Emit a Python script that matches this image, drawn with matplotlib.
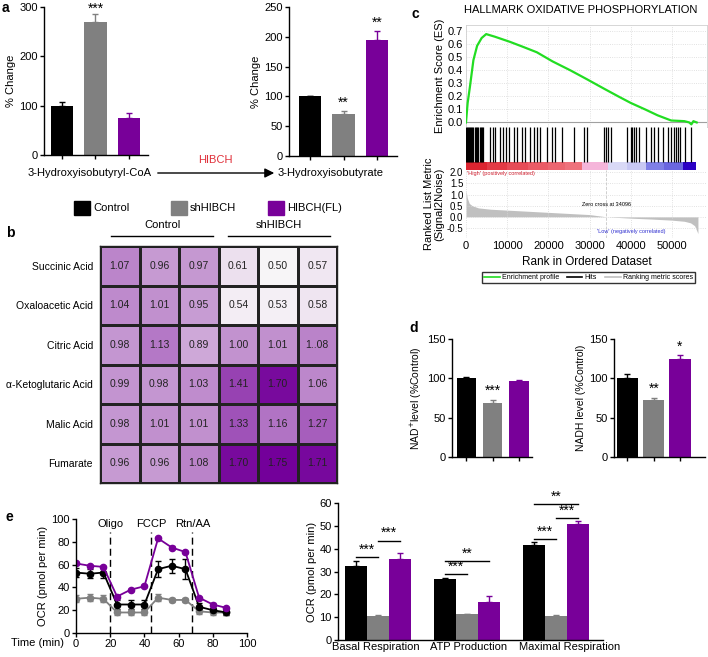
import numpy as np
import matplotlib
matplotlib.use('Agg')
import matplotlib.pyplot as plt
from matplotlib.colors import LinearSegmentedColormap
from matplotlib.patches import Rectangle
from matplotlib.lines import Line2D

plt.rcParams['font.family'] = ['Liberation Sans', 'DejaVu Sans']
plt.rcParams['axes.linewidth'] = 1.0
plt.rcParams['xtick.major.width'] = 1.0
plt.rcParams['ytick.major.width'] = 1.0
plt.rcParams['xtick.major.size'] = 3
plt.rcParams['ytick.major.size'] = 3

# ---------------- data ----------------
groups = ['Control', 'shHIBCH', 'HIBCH(FL)']
colors = ['#000000', '#808080', '#780099']

# panel a
coa_vals = [100, 270, 76]
coa_errs = [8, 15, 9]
hib_vals = [100, 70, 195]
hib_errs = [1, 5, 14]

# panel b
metabolites = ['Succinic Acid', 'Oxaloacetic Acid', 'Citric Acid',
               'α-Ketoglutaric Acid', 'Malic Acid', 'Fumarate']
heat_vals = np.array([
    [1.07, 0.96, 0.97, 0.61, 0.50, 0.57],
    [1.04, 1.01, 0.95, 0.54, 0.53, 0.58],
    [0.98, 1.13, 0.89, 1.00, 1.01, 1.08],
    [0.99, 0.98, 1.03, 1.41, 1.70, 1.06],
    [0.98, 1.01, 1.01, 1.33, 1.16, 1.27],
    [0.96, 0.96, 1.08, 1.70, 1.75, 1.71],
])
label_override = {(2, 5): '1..08'}

# panel c (GSEA)
es_rank = [0, 400, 976, 1800, 2700, 3800, 4900, 7000, 10700, 14000, 17200, 21000,
           25400, 29500, 33500, 37000, 40000, 43500, 46500, 49800, 53000, 54200,
           54700, 55200, 56000]
es_val = [0.0, 0.15, 0.28, 0.48, 0.59, 0.65, 0.68, 0.66, 0.62, 0.58, 0.54, 0.47,
          0.40, 0.33, 0.26, 0.20, 0.15, 0.10, 0.055, 0.015, 0.01, 0.0,
          -0.015, 0.01, 0.0]
hits = [100, 300, 500, 700, 900, 1200, 1500, 1800, 2100, 2400, 2700, 3000, 3300,
        3600, 3900, 4200, 5850, 6500, 7100, 8300, 9100, 9750, 10550, 11550, 12350,
        13600, 14400, 15450, 16450, 17250, 18050, 19700, 20900, 21700, 23350,
        26200, 28600, 29450, 33500, 33900, 34500, 35150, 39200, 40000, 40400,
        40850, 41250, 42050, 43700, 44900, 45700, 46500, 47750, 48950, 49800,
        50600, 51000, 51400, 52050, 53050, 54650]
rm_rank = [0, 300, 800, 1500, 3000, 6000, 10000, 20000, 30000, 34096, 40000,
           45000, 50000, 53000, 54500, 55500, 56300]
rm_val = [1.2, 0.85, 0.6, 0.5, 0.4, 0.34, 0.3, 0.2, 0.1, 0.0, -0.06, -0.1,
          -0.15, -0.2, -0.27, -0.4, -0.75]
band_edges = [0, 5000, 10000, 15000, 20000, 24000, 28200, 34500, 39000, 43700,
              48000, 52700, 55900]
band_colors = ['#dc2430', '#e23a45', '#e64c57', '#ea5b66', '#ec6670', '#ee727c',
               '#f5b5da', '#d9d9f6', '#c8c8f3', '#7f7fe6', '#6a66df', '#2a00c4']

# panel d
nad_vals = [100, 69, 96]
nad_errs = [1.5, 3, 2]
nadh_vals = [100, 73, 125]
nadh_errs = [5, 2, 5]

# panel e (time course)
time_min = [0, 8, 16, 24, 32, 40, 48, 56, 64, 72, 80, 88]
ocr_ctrl = [53, 52, 53, 25, 25, 25, 56, 59, 56, 23, 20, 18]
ocr_ctrl_err = [4, 4, 5, 4, 4, 4, 7, 6, 9, 3, 2, 2]
ocr_sh = [30, 31, 30, 18, 18, 18, 31, 29, 29, 19, 18, 18]
ocr_sh_err = [3, 3, 3, 2, 2, 2, 3, 2, 2, 2, 2, 2]
ocr_fl = [61, 59, 58, 32, 38, 41, 83, 75, 71, 31, 25, 22]
ocr_fl_err = [1, 1, 1, 1, 1, 1, 1, 1, 1, 1, 1, 1]
injections = [20, 44, 68]
injection_names = ['Oligo', 'FCCP', 'Rtn/AA']

# panel e (summary)
resp_cats = ['Basal Respiration', 'ATP Production', 'Maximal Respiration']
resp_ctrl = [32.5, 26.5, 41.5]
resp_ctrl_err = [2, 0.6, 1.5]
resp_sh = [10.5, 11.2, 10.5]
resp_sh_err = [0.3, 0.3, 0.3]
resp_fl = [35.5, 16.8, 51.0]
resp_fl_err = [2.5, 2.3, 1.0]

# ---------------- figure ----------------
W, H = 708, 657
fig = plt.figure(figsize=(W / 100, H / 100), dpi=100)
STAR = 10


def px_axes(l, t, r, b):
    return fig.add_axes([l / W, 1 - b / H, (r - l) / W, (b - t) / H])


def prism(ax):
    ax.spines['top'].set_visible(False)
    ax.spines['right'].set_visible(False)
    ax.tick_params(labelsize=8, pad=1.5)


def bar_panel(ax, vals, errs, width, xlim, ylim, yticks, ylabel):
    x = np.arange(3)
    ax.bar(x, vals, width, color=colors, zorder=2)
    for xi, v, e, c in zip(x, vals, errs, colors):
        ax.errorbar(xi, v, yerr=[[0], [e]], fmt='none', ecolor=c,
                    elinewidth=1.0, capsize=2.5, capthick=1.0, zorder=3)
    ax.set_xlim(*xlim)
    ax.set_ylim(*ylim)
    ax.set_yticks(yticks)
    ax.set_xticks(x)
    ax.set_xticklabels([])
    ax.set_ylabel(ylabel, fontsize=8, labelpad=2)
    prism(ax)


# panel a
ax_a1 = px_axes(44, 7, 148, 155)
bar_panel(ax_a1, coa_vals, coa_errs, 0.66, (-0.54, 2.57), (0, 300),
          [0, 100, 200, 300], '% Change')
ax_a1.text(1, 283, '***', ha='center', va='bottom', fontsize=STAR)

ax_a2 = px_axes(289, 7, 397, 156)
bar_panel(ax_a2, hib_vals, hib_errs, 0.68, (-0.63, 2.6), (0, 250),
          [0, 50, 100, 150, 200, 250], '% Change')
ax_a2.text(1, 78, '**', ha='center', va='bottom', fontsize=STAR)
ax_a2.text(2, 211, '**', ha='center', va='bottom', fontsize=STAR)

# panel b heatmap
cmap = LinearSegmentedColormap.from_list(
    'pur', [(0, '#f7f5f7'), (0.4, '#c292cf'), (1, '#73009a')])
ax_b = px_axes(100, 246, 337, 483)
ax_b.pcolormesh(np.arange(7), np.arange(7), heat_vals, cmap=cmap,
                vmin=0.5, vmax=1.75, edgecolors='#222222', linewidth=0.9)
ax_b.set_xlim(0, 6)
ax_b.set_ylim(6, 0)
for i in range(heat_vals.shape[0]):
    for j in range(heat_vals.shape[1]):
        lab = label_override.get((i, j), f'{heat_vals[i, j]:.2f}')
        ax_b.text(j + 0.5, i + 0.5, lab, ha='center', va='center', fontsize=7.5,
                  color='#222222')
ax_b.set_xticks([])
ax_b.set_yticks(np.arange(6) + 0.5)
ax_b.set_yticklabels(metabolites, fontsize=7.5)
ax_b.tick_params(axis='y', length=0, pad=5)
for s in ax_b.spines.values():
    s.set_linewidth(1.0)
    s.set_color('#222222')
ax_b.plot([0.28, 2.86], [-0.25, -0.25], color='black', lw=1.0, clip_on=False)
ax_b.plot([3.24, 5.82], [-0.25, -0.25], color='black', lw=1.0, clip_on=False)
ax_b.text(1.57, -0.4, 'Control', ha='center', va='bottom', fontsize=8)
ax_b.text(4.53, -0.4, 'shHIBCH', ha='center', va='bottom', fontsize=8)

# panel c GSEA
gx = (0, 58500)
grid_kw = dict(color='#d8d8d8', lw=0.6, ls=':')
ax_es = px_axes(466, 25, 707, 127)
ax_es.plot(es_rank, es_val, color='#22dd22', lw=1.6, zorder=3)
ax_es.axhline(0, color='#a0a0a0', lw=0.8)
ax_es.set_xlim(*gx)
ax_es.set_ylim(-0.035, 0.75)
ax_es.set_yticks(np.round(np.arange(0, 0.71, 0.1), 1))
ax_es.set_xticks(range(0, 60000, 10000))
ax_es.set_xticklabels([])
ax_es.grid(True, **grid_kw)
ax_es.tick_params(length=0, labelsize=8, pad=2)
ax_es.set_ylabel('Enrichment Score (ES)', fontsize=8, labelpad=2)
for s in ax_es.spines.values():
    s.set_color('#d0d0d0')
    s.set_linewidth(0.6)
fig.text(581 / W, 1 - 10 / H, 'HALLMARK OXIDATIVE PHOSPHORYLATION', fontsize=8,
         ha='center', va='center')

ax_hit = px_axes(466, 127, 707, 170)
for lo, hi, c in zip(band_edges[:-1], band_edges[1:], band_colors):
    ax_hit.axvspan(lo, hi, ymin=0, ymax=0.19, color=c, lw=0)
ax_hit.vlines(hits, 0.19, 1, color='black', lw=0.9)
ax_hit.set_xlim(*gx)
ax_hit.set_ylim(0, 1)
ax_hit.set_xticks([])
ax_hit.set_yticks([])
for s in ax_hit.spines.values():
    s.set_visible(False)

ax_rm = px_axes(466, 170, 707, 238)
ax_rm.fill_between(rm_rank, 0, rm_val, color='#c0c0c0', lw=0)
ax_rm.axvline(34096, color='#c8c8c8', lw=0.6, ls='--')
ax_rm.set_xlim(*gx)
ax_rm.set_ylim(-0.95, 2.1)
ax_rm.set_yticks([2.0, 1.5, 1.0, 0.5, 0.0, -0.5])
ax_rm.set_yticklabels(['2.0', '1.5', '1.0', '0.5', '0.0', '-0.5'])
ax_rm.set_xticks(range(0, 60000, 10000))
ax_rm.grid(True, **grid_kw)
ax_rm.tick_params(length=0, labelsize=8, pad=2)
ax_rm.tick_params(axis='y', labelsize=7)
ax_rm.set_xlabel('Rank in Ordered Dataset', fontsize=8.5, labelpad=4)
ax_rm.set_ylabel('Ranked List Metric\n(Signal2Noise)', fontsize=8, labelpad=2,
                 linespacing=1.0)
for s in ax_rm.spines.values():
    s.set_visible(False)
ax_rm.text(200, 1.95, "'High' (positively correlated)", color='#d02030',
           fontsize=4, va='center')
ax_rm.text(34096, 0.57, 'Zero cross at 34096', fontsize=4, ha='center',
           va='center')
ax_rm.text(40000, -0.66, "'Low' (negatively correlated)", color='#3030d0',
           fontsize=4, ha='center', va='center')
handles = [Line2D([], [], color='#22dd22', lw=1.2),
           Line2D([], [], color='black', lw=1.2),
           Line2D([], [], color='#c0c0c0', lw=1.2)]
fig.legend(handles, ['Enrichment profile', 'Hits', 'Ranking metric scores'],
           loc='center', bbox_to_anchor=(588.5 / W, 1 - 277.5 / H), ncol=3,
           fontsize=5, frameon=True, fancybox=False, edgecolor='black',
           handlelength=2.2, columnspacing=1.2, borderpad=0.3, handletextpad=0.3)

# panel d
ax_d1 = px_axes(452, 339, 532, 457)
bar_panel(ax_d1, nad_vals, nad_errs, 0.72, (-0.53, 2.49), (0, 150),
          [0, 50, 100, 150], 'NAD$^{+}$level (%Control)')
ax_d1.yaxis.label.set_size(7.5)
ax_d1.text(1, 75, '***', ha='center', va='bottom', fontsize=STAR)

ax_d2 = px_axes(614, 339, 705, 457)
bar_panel(ax_d2, nadh_vals, nadh_errs, 0.8, (-0.51, 2.95), (0, 150),
          [0, 50, 100, 150], 'NADH level (%Control)')
ax_d2.yaxis.label.set_size(7.5)
ax_d2.text(1, 78, '**', ha='center', va='bottom', fontsize=STAR)
ax_d2.text(2, 131, '*', ha='center', va='bottom', fontsize=STAR)

# panel e time course
ax_e1 = px_axes(76, 519, 247, 633)
for y, e, c in [(ocr_sh, ocr_sh_err, colors[1]), (ocr_ctrl, ocr_ctrl_err, colors[0]),
                (ocr_fl, ocr_fl_err, colors[2])]:
    ax_e1.errorbar(time_min, y, yerr=e, color=c, marker='o', markersize=4.5,
                   lw=1.3, capsize=2, elinewidth=1.0, capthick=1.0)
for t, name in zip(injections, injection_names):
    ax_e1.plot([t, t], [0, 89], color='black', ls=(0, (5, 3)), lw=1.0)
    ax_e1.text(t, 91, name, ha='center', va='bottom', fontsize=8)
ax_e1.set_xlim(0, 100)
ax_e1.set_ylim(0, 100)
ax_e1.set_xticks([0, 20, 40, 60, 80, 100])
ax_e1.set_yticks([0, 20, 40, 60, 80, 100])
ax_e1.set_ylabel('OCR (pmol per min)', fontsize=8, labelpad=2)
prism(ax_e1)
ax_e1.text(-0.07, -0.085, 'Time (min)', transform=ax_e1.transAxes, ha='right',
           va='center', fontsize=8)

# panel e summary bars
ax_e2 = px_axes(338, 503, 603, 640)
xg = np.arange(3)
bw = 0.25
for k, (vals, errs) in enumerate([(resp_ctrl, resp_ctrl_err), (resp_sh, resp_sh_err),
                                   (resp_fl, resp_fl_err)]):
    xs = xg + (k - 1) * bw
    ax_e2.bar(xs, vals, bw, color=colors[k], zorder=2)
    ax_e2.errorbar(xs, vals, yerr=[np.zeros(3), errs], fmt='none',
                   ecolor=colors[k], elinewidth=1.0, capsize=2.5, capthick=1.0,
                   zorder=3)
ax_e2.set_xlim(-0.45, 2.53)
ax_e2.set_ylim(0, 60)
ax_e2.set_yticks(range(0, 61, 10))
# category labels sit slightly off the group centres, as in the original
ax_e2.set_xticks([-0.02, 1.02, 2.15])
ax_e2.set_xticklabels(resp_cats, fontsize=8)
ax_e2.tick_params(axis='x', length=0)
ax_e2.set_ylabel('OCR (pmol per min)', fontsize=8, labelpad=2)
prism(ax_e2)
sig = [(0, -1, 0, 36.3, '***'), (0, 0, 1, 43.4, '***'),
       (1, -1, 0, 28.7, '***'), (1, -1, 1, 34.5, '**'),
       (2, -1, 0, 44.1, '***'), (2, 0, 1, 53.4, '***'), (2, -1, 1, 59.4, '**')]
for g, a, b, y, s in sig:
    x0, x1 = g + a * bw, g + b * bw
    ax_e2.plot([x0, x1], [y, y], color='black', lw=1.0, clip_on=False)
    ax_e2.text((x0 + x1) / 2, y + 0.3, s, ha='center', va='bottom',
               fontsize=STAR, clip_on=False)

# overlay for labels / legend / arrow
ov = fig.add_axes([0, 0, 1, 1])
ov.set_xlim(0, W)
ov.set_ylim(H, 0)
ov.axis('off')
ov.patch.set_alpha(0)
ov.text(2, 8, 'a', fontsize=10, fontweight='bold', va='center')
ov.text(6, 233, 'b', fontsize=10, fontweight='bold', va='center')
ov.text(412, 14, 'c', fontsize=10, fontweight='bold', va='center')
ov.text(409, 328, 'd', fontsize=10, fontweight='bold', va='center')
ov.text(6, 517, 'e', fontsize=10, fontweight='bold', va='center')
ov.text(90, 173, '3-Hydroxyisobutyryl-CoA', ha='center', va='center', fontsize=8)
ov.text(331, 173, '3-Hydroxyisobutyrate', ha='center', va='center', fontsize=8)
ov.annotate('', xy=(277, 173), xytext=(155, 173),
            arrowprops=dict(arrowstyle='-|>', color='black', lw=1.0,
                            mutation_scale=14))
ov.text(215, 160, 'HIBCH', ha='center', va='center', fontsize=8, color='#e0303a')
for x0, c, lab in [(74, colors[0], 'Control'), (171, colors[1], 'shHIBCH'),
                   (268, colors[2], 'HIBCH(FL)')]:
    ov.add_patch(Rectangle((x0, 201), 16, 14, color=c))
    ov.text(x0 + 19, 208, lab, ha='left', va='center', fontsize=8)

fig.savefig('out.png', dpi=100)
